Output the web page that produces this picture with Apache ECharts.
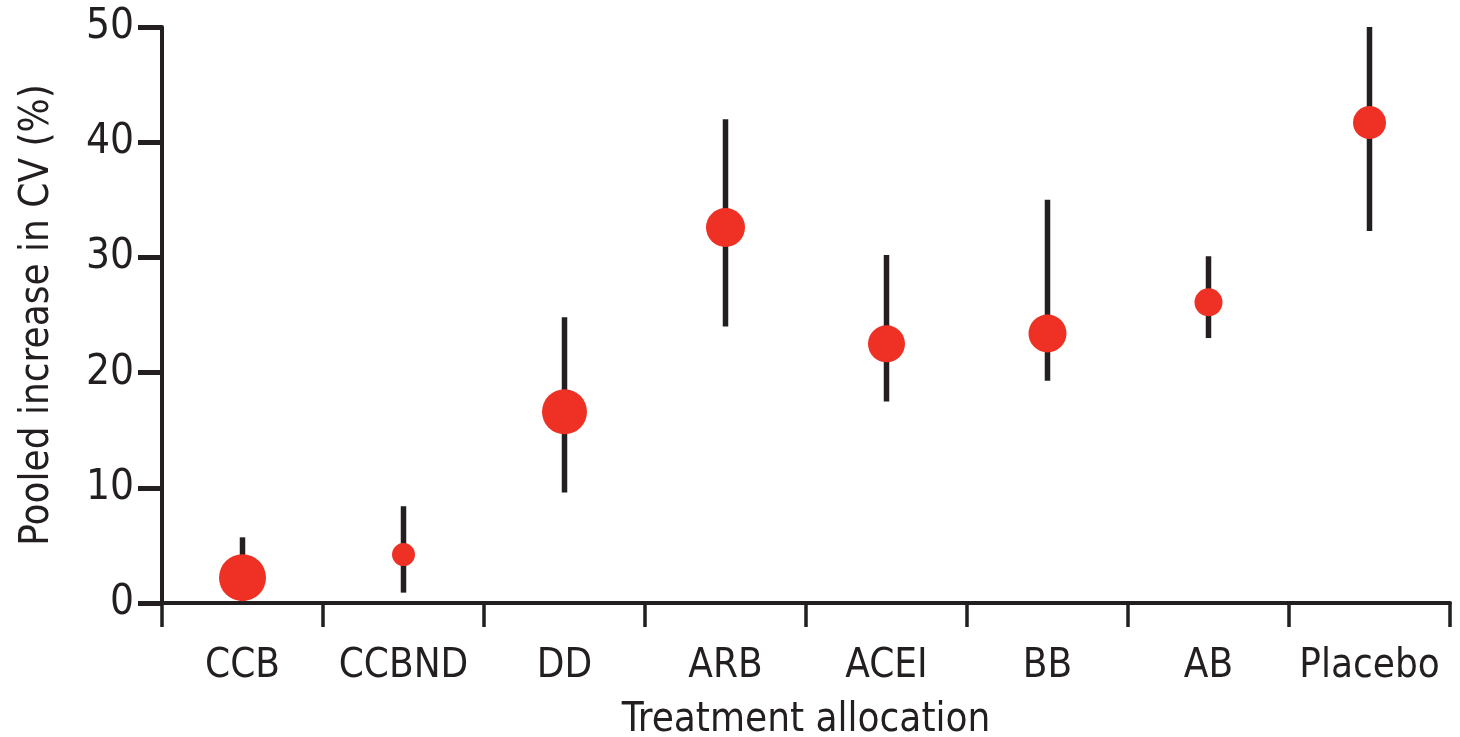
<!DOCTYPE html>
<html>
<head>
<meta charset="utf-8">
<title>Pooled increase in CV by treatment allocation</title>
<script src="https://cdn.jsdelivr.net/npm/echarts@6/dist/echarts.min.js"></script>
<style>
  html, body { margin: 0; padding: 0; background: #ffffff; }
  #chart { width: 1460px; height: 737px; }
</style>
</head>
<body>
<div id="chart"></div>
<script>
// Treatment groups on the x axis
const categories = ['CCB', 'CCBND', 'DD', 'ARB', 'ACEI', 'BB', 'AB', 'Placebo'];
// Pooled increase in CV (%), point estimates
const pooledIncrease = [2.2, 4.2, 16.6, 32.6, 22.5, 23.4, 26.1, 41.7];
// 95% CI lower and upper limits
const ciLower = [0.0, 0.9, 9.6, 24.0, 17.5, 19.3, 23.0, 32.3];
const ciUpper = [5.7, 8.4, 24.8, 42.0, 30.2, 35.0, 30.1, 50.0];
// Y-axis tick values
const yTicks = [0, 10, 20, 30, 40, 50];

// Marker diameters (px), reflecting each estimate's weight
const markerDiameters = [47, 23, 45, 39, 37, 38, 28, 33];

const INK = '#231f20';
const RED = '#ee3124';
const FONT = "'DejaVu Sans Condensed', 'Liberation Sans Narrow', 'Open Sans', sans-serif";

const chart = echarts.init(document.getElementById('chart'), null, { renderer: 'canvas' });

const ciData = categories.map((c, i) => [i, ciLower[i], ciUpper[i]]);
const pointData = categories.map((c, i) => ({
  value: [i, pooledIncrease[i]],
  symbolSize: markerDiameters[i]
}));

chart.setOption({
  animation: false,
  backgroundColor: '#ffffff',
  grid: {
    left: 162, right: 10, top: 27, bottom: 134,
    containLabel: false,
    outerBoundsMode: 'none'
  },
  xAxis: {
    type: 'category',
    data: categories,
    boundaryGap: true,
    name: 'Treatment allocation',
    nameLocation: 'middle',
    nameGap: 98,
    nameTextStyle: { color: INK, fontSize: 40, fontFamily: FONT },
    axisLine: { show: true, lineStyle: { color: INK, width: 4 } },
    axisTick: { show: true, length: 24, inside: false, lineStyle: { color: INK, width: 3.5 } },
    axisLabel: { color: INK, fontSize: 40, fontFamily: FONT, margin: 44, interval: 0 },
    splitLine: { show: false }
  },
  yAxis: {
    type: 'value',
    min: yTicks[0],
    max: yTicks[yTicks.length - 1],
    interval: yTicks[1] - yTicks[0],
    name: 'Pooled increase in CV (%)',
    nameLocation: 'middle',
    nameGap: 104,
    nameTextStyle: { color: INK, fontSize: 40, fontFamily: FONT },
    axisLine: { show: true, lineStyle: { color: INK, width: 4 } },
    axisTick: { show: true, length: 24, inside: false, lineStyle: { color: INK, width: 5 } },
    axisLabel: { color: INK, fontSize: 42, fontFamily: FONT, margin: 28 },
    splitLine: { show: false }
  },
  series: [
    {
      // Confidence interval whiskers
      type: 'custom',
      data: ciData,
      encode: { x: 0, y: [1, 2] },
      renderItem: function (params, api) {
        const i = api.value(0);
        const lo = api.coord([i, api.value(1)]);
        const hi = api.coord([i, api.value(2)]);
        return {
          type: 'line',
          shape: { x1: lo[0], y1: lo[1], x2: hi[0], y2: hi[1] },
          style: { stroke: INK, lineWidth: 5.5, lineCap: 'butt' }
        };
      },
      z: 2
    },
    {
      // Point estimates
      type: 'scatter',
      data: pointData,
      symbol: 'circle',
      itemStyle: { color: RED, opacity: 1 },
      z: 3
    }
  ]
});
</script>
</body>
</html>
